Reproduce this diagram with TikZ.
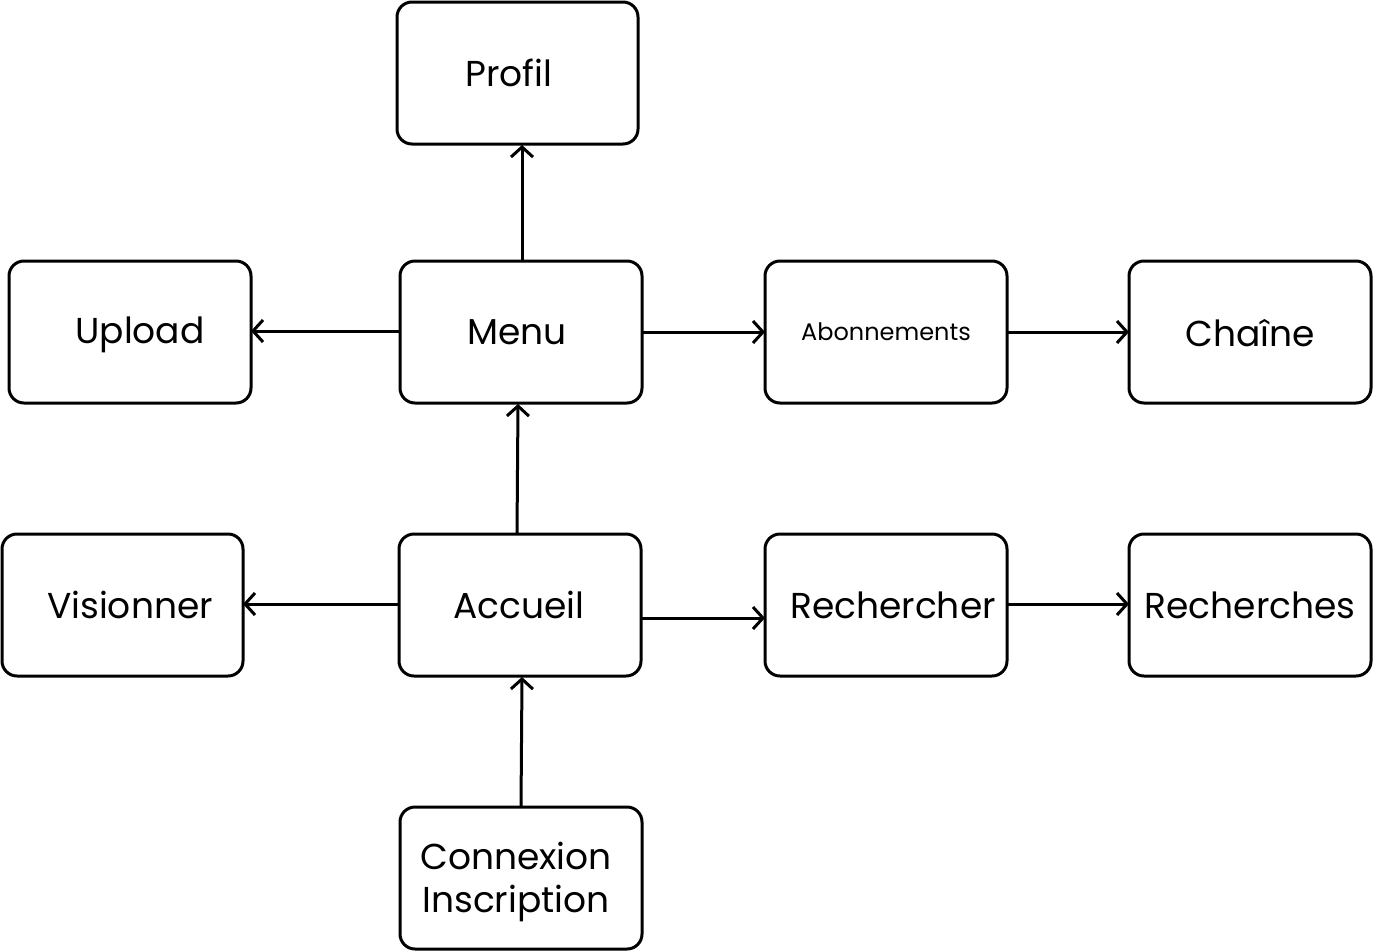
\documentclass[tikz,border=0pt]{standalone}
\usepackage{fontspec}
\setmainfont{Poppins}
\usetikzlibrary{arrows.meta}
\begin{document}
\begin{tikzpicture}[x=1pt,y=-1pt,
  box/.style={draw, line width=3pt, rounded corners=15pt},
  lbl/.style={font=\fontsize{36}{43}\selectfont, align=center, inner sep=0pt},
  link/.style={line width=3pt, -{Straight Barb[length=10pt,width=22pt,line width=3pt]}}]
\useasboundingbox (0,0) rectangle (1373,951);
% boxes
\draw[box] (397,2) rectangle (638,144);
\draw[box] (9,261) rectangle (251,403);
\draw[box] (400,261) rectangle (642,403);
\draw[box] (765,261) rectangle (1007,403);
\draw[box] (1129,261) rectangle (1371,403);
\draw[box] (2,534) rectangle (243,676);
\draw[box] (399,534) rectangle (641,676);
\draw[box] (765,534) rectangle (1007,676);
\draw[box] (1129,534) rectangle (1371,676);
\draw[box] (400,807) rectangle (642,949);
% labels
\node[lbl] (profil) at (509,73) {Profil};
\node[lbl] (upload) at (140,335) {Upload};
\node[lbl] (menu) at (517,332) {Menu};
\node[lbl, font=\fontsize{24}{28}\selectfont] (abo) at (886,332) {Abonnements};
\node[lbl] (chaine) at (1250,333) {Chaîne};
\node[lbl] (vision) at (130,605) {Visionner};
\node[lbl] (accueil) at (519,605) {Accueil};
\node[lbl] (recher) at (893,605) {Rechercher};
\node[lbl] (reches) at (1250,605) {Recherches};
\node[lbl] (conn) at (516,882) {Connexion\\Inscription};
% connector endpoints
\coordinate (menuT) at (522,261);
\coordinate (profB) at (522,145);
\coordinate (menuL) at (400,331);
\coordinate (upR) at (251,331);
\coordinate (menuR) at (642,332);
\coordinate (aboL) at (765,332);
\coordinate (aboR) at (1007,332);
\coordinate (chL) at (1129,332);
\coordinate (accT) at (517,534);
\coordinate (menuB) at (518,404);
\coordinate (accL) at (399,604);
\coordinate (visR) at (243,604);
\coordinate (accR) at (641,618);
\coordinate (rechL) at (765,618);
\coordinate (rechR) at (1007,604);
\coordinate (resL) at (1129,604);
\coordinate (connT) at (521,807);
\coordinate (accB) at (522,677);
\draw[link] (menuT) -- (profB);
\draw[link] (menuL) -- (upR);
\draw[link] (menuR) -- (aboL);
\draw[link] (aboR) -- (chL);
\draw[link] (accT) -- (menuB);
\draw[link] (accL) -- (visR);
\draw[link] (accR) -- (rechL);
\draw[link] (rechR) -- (resL);
\draw[link] (connT) -- (accB);
\end{tikzpicture}
\end{document}
